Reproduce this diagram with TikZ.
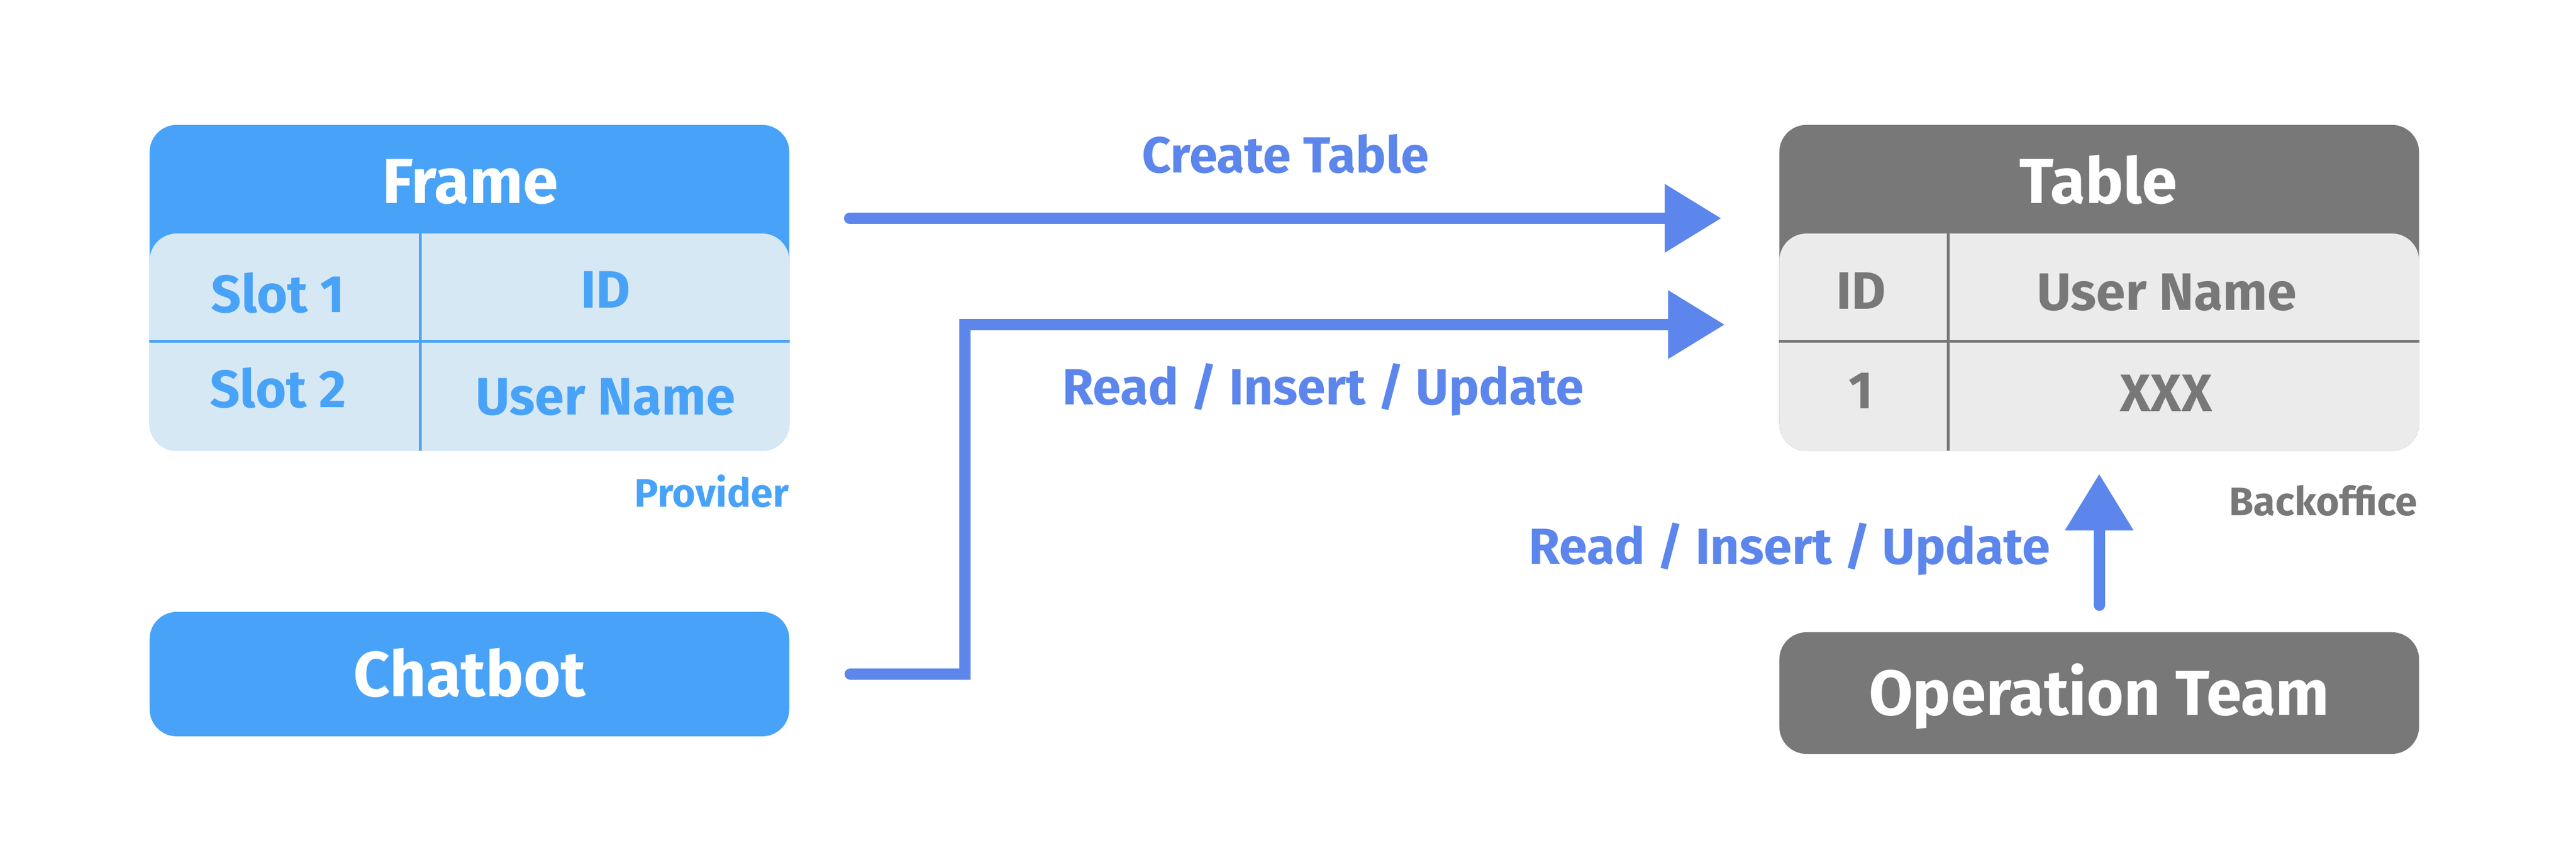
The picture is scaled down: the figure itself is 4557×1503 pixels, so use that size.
\documentclass[tikz,border=0pt]{standalone}
\usepackage{fontspec}
\setmainfont{Fira Sans}
\usetikzlibrary{arrows.meta}
\definecolor{frameblue}{HTML}{48A3F8}
\definecolor{cellblue}{HTML}{D7E8F5}
\definecolor{flowblue}{HTML}{5C86EC}
\definecolor{tablegray}{HTML}{787878}
\definecolor{cellgray}{HTML}{EBEBEB}
\tikzset{>={Triangle[length=1cm,width=1.16cm]}}
\tikzset{
  box/.style={fill=#1, rounded corners=0.48cm, minimum width=11.31cm, inner sep=0pt},
  head/.style={text=white, font=\fontsize{32}{36}\selectfont\bfseries, text height=0.78cm, text depth=0pt},
  cell/.style={font=\fontsize{26.5}{30}\selectfont\bfseries, text height=0.65cm, text depth=0pt, inner sep=0pt},
  note/.style={font=\fontsize{20}{22}\selectfont\bfseries, text height=0.48cm, text depth=0pt, inner sep=0pt},
  flowtext/.style={text=flowblue, font=\fontsize{25.5}{28}\selectfont\bfseries, text height=0.63cm, text depth=0pt, inner sep=0pt},
  flow/.style={->, line width=0.2cm, line cap=round, flowblue},
  cellline/.style={#1, line width=0.05cm}
}
\begin{document}
\begin{tikzpicture}[x=0.01cm, y=-0.01cm]
\useasboundingbox (0,0) rectangle (4557,1503);
\node[box=frameblue, minimum height=5.76cm] (frame) at (830.5,509) {};
\node[box=cellblue, minimum height=3.84cm, anchor=south] (slots) at (frame.south) {};
\draw[cellline=frameblue] (slots.west |- 0,603) -- (slots.east |- 0,603);
\draw[cellline=frameblue] (743,413) -- (743,797);
\node[head] (frametitle) at (832,320) {Frame};
\foreach \t/\x/\y [count=\i] in {Slot 1/492/520, ID/1071/512, Slot 2/492/688, User Name/1071/701}
  \node[cell, text=frameblue] (fcell\i) at (\x,\y) {\t};
\node[note, text=frameblue, anchor=east] (provider) at (1396,872) {Provider};

\node[box=tablegray, minimum height=5.76cm] (table) at (3713.5,509) {};
\node[box=cellgray, minimum height=3.84cm, anchor=south] (rows) at (table.south) {};
\draw[cellline=tablegray] (rows.west |- 0,603) -- (rows.east |- 0,603);
\draw[cellline=tablegray] (3446,413) -- (3446,797);
\node[head] (tabletitle) at (3712,320) {Table};
\foreach \t/\x/\y [count=\i] in {ID/3292/514, User Name/3833/516, 1/3292/690, XXX/3832/695}
  \node[cell, text=tablegray] (tcell\i) at (\x,\y) {\t};
\node[note, text=tablegray, anchor=east] (backoffice) at (4277,887) {Backoffice};

\node[box=frameblue, minimum height=2.2cm, head] (chatbot) at (830.5,1192) {Chatbot};
\node[box=tablegray, minimum height=2.15cm, head] (ops) at (3713.5,1225.5) {Operation Team};

\coordinate (create1) at (1503,386);
\coordinate (create2) at (3045,386);
\draw[flow] (create1) -- node[flowtext, yshift=1.12cm] (createlabel) {Create Table} (create2);
\coordinate (bend) at (1707,574);
\coordinate (read2) at (3051,574);
\draw[flow] ([xshift=1.07cm]chatbot.east) -| (bend) -- (read2);
\node[flowtext] (readlabel) at (2341,684) {Read / Insert / Update};
\draw[flow] ([yshift=0.47cm]ops.north) -- ([yshift=-0.4cm]table.south);
\node[flowtext, anchor=east] (opslabel) at (3628,966) {Read / Insert / Update};
\end{tikzpicture}
\end{document}
